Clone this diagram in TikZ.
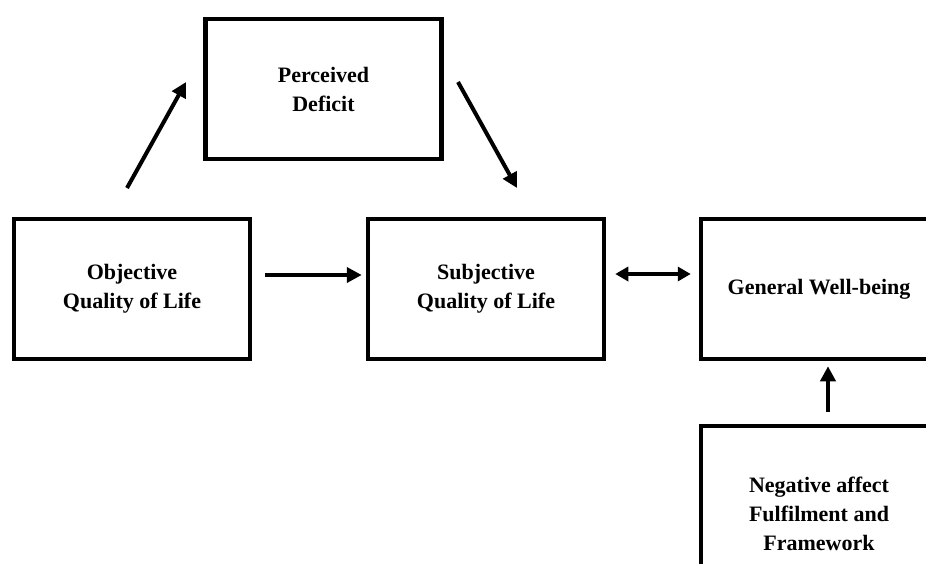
\documentclass[tikz,border=0pt]{standalone}
\usepackage{fontspec}
\setmainfont{Liberation Serif}
\usetikzlibrary{arrows.meta}

\begin{document}
\begin{tikzpicture}[x=1pt,y=-1pt,
  box/.style={draw,line width=4.5pt,minimum width=236pt,minimum height=140pt,
    align=center,font=\fontsize{22}{29}\selectfont\bfseries},
  arr/.style={line width=4pt,-{Triangle[length=15pt,width=15pt]}},
  dblarr/.style={line width=4pt,{Triangle[length=13pt,width=14pt]}-{Triangle[length=13pt,width=14pt]}}]
  \useasboundingbox (0,0) rectangle (926,563);
  \clip (0,0) rectangle (926,563);
  \node[box] (pd) at (323.5,89) {Perceived\\Deficit};
  \node[box] (obj) at (132,289) {Objective\\Quality of Life};
  \node[box] (subj) at (486,289) {Subjective\\Quality of Life};
  \node[box] (gwb) at (819,289) {General Well-being};
  \node[box,minimum height=180pt] (neg) at (819,516)
    {\raisebox{9pt}{\begin{tabular}{@{}c@{}}Negative affect\\Fulfilment and\\Framework\end{tabular}}};
  \coordinate (c1) at (127,188);
  \coordinate (c2) at (186,82);
  \coordinate (c3) at (458,82);
  \coordinate (c4) at (517,188);
  \draw[arr] (c1) -- (c2);
  \draw[arr] (c3) -- (c4);
  \draw[arr] ([xshift=13pt,yshift=14pt]obj.east) -- ([xshift=-4pt,yshift=14pt]subj.west);
  \draw[dblarr] ([xshift=9pt,yshift=15pt]subj.east) -- ([xshift=-8pt,yshift=15pt]gwb.west);
  \draw[arr] ([xshift=9pt,yshift=12pt]neg.north) -- ([xshift=9pt,yshift=-5pt]gwb.south);
\end{tikzpicture}
\end{document}
